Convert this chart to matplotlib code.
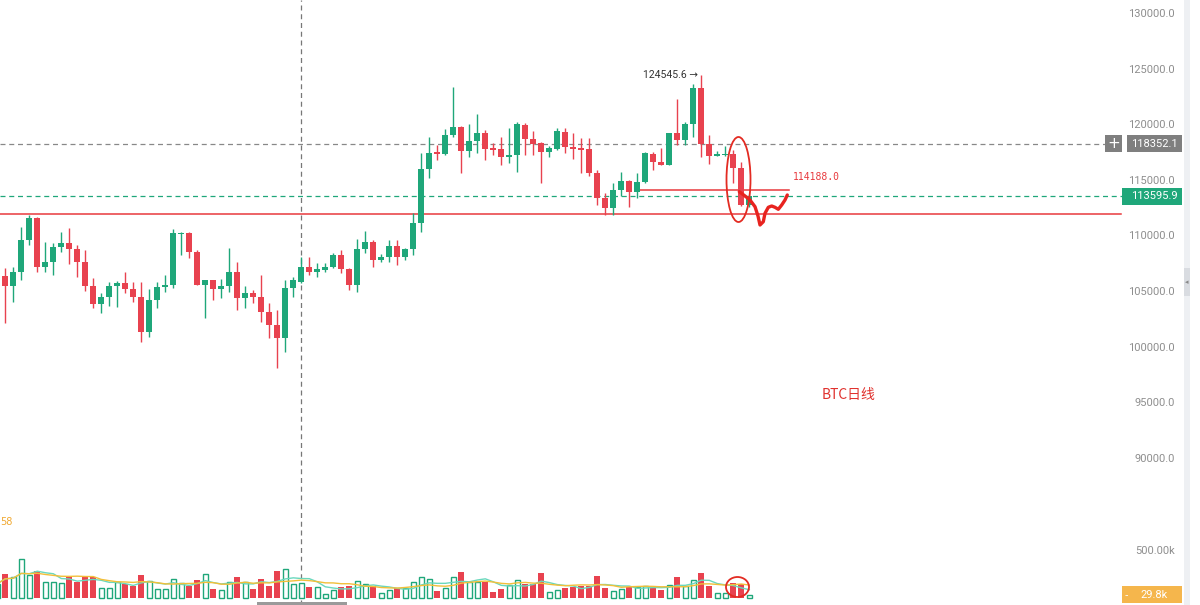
import matplotlib
matplotlib.use('Agg')
import matplotlib.pyplot as plt
import matplotlib.transforms as mtransforms
from matplotlib.patches import Rectangle, Ellipse
import numpy as np
import pandas as pd

# ---------------- data (BTC daily) ----------------
opens = [105800, 106400, 105540, 106825, 109676, 111682, 107275, 107670, 109020, 109380,
         108867, 107725, 105566, 103894, 104523, 105566, 105782, 105270, 104577, 101376,
         104281, 105477, 105630, 110216, 110333, 108570, 105630, 106079, 105270, 105566,
         106770, 104433, 104883, 104577, 103228, 102032, 100836, 105333, 105926, 107275,
         106825, 106978, 107215, 108327, 107068, 105630, 108843, 109523, 107878, 108120,
         109163, 108174, 108843, 111178, 116034, 117560, 117410, 119119, 119865, 117707,
         118606, 119271, 117920, 117830, 117167, 117347, 120020, 118732, 118372, 117563,
         117860, 119418, 118070, 117920, 117830, 115675, 113426, 112527, 114173, 114982,
         114020, 114919, 117383, 116664, 116421, 119271, 118669, 120081, 123372, 118282,
         117257, 117300, 117383, 116124, 112824]
highs = [107800, 107200, 107275, 110872, 111925, 111772, 109470, 109380, 110368, 110728,
         109227, 108777, 106286, 104937, 105873, 105990, 106770, 105926, 105873, 105270,
         105926, 106529, 110639, 110400, 110400, 108777, 106100, 106100, 106139, 108930,
         107725, 105540, 105180, 106529, 103984, 103381, 106079, 106322, 108174, 108174,
         107635, 107580, 108534, 108777, 107200, 109742, 110485, 109676, 108417, 109676,
         109676, 108930, 112077, 117527, 118912, 118219, 119631, 123408, 119900, 120108,
         121007, 119569, 118372, 118912, 119721, 120315, 120170, 119508, 118516, 118129,
         119775, 119721, 119271, 118822, 118822, 115971, 113876, 114775, 115764, 115072,
         115675, 117563, 117563, 117923, 119300, 122383, 120315, 123678, 124545.6, 119119,
         117680, 118160, 117770, 116718, 113700]
lows = [102300, 102200, 104128, 106079, 109227, 106825, 106825, 106529, 108623, 107490,
        106376, 105090, 103534, 103085, 103768, 103678, 104883, 104128, 100477, 100980,
        103534, 105027, 105333, 108327, 108030, 105600, 102635, 104281, 104433, 105027,
        103381, 103534, 103984, 102330, 100836, 98138, 99631, 104577, 105782, 106529,
        106322, 106825, 107131, 106681, 105180, 105027, 108534, 107275, 107725, 107725,
        107428, 107878, 108327, 110422, 115225, 116871, 117320, 118968, 115729, 117113,
        117527, 116871, 117320, 116421, 116573, 115791, 117320, 117320, 114775, 117167,
        117770, 117527, 116960, 115729, 115439, 112800, 111925, 111925, 113661, 112671,
        113426, 114775, 115971, 116400, 116400, 118219, 118219, 118968, 117167, 116538,
        117257, 117200, 114775, 112750, 112650]
closes = [107200, 105500, 106825, 109676, 111682, 107275, 107670, 109020, 109380, 108867,
          107725, 105566, 103894, 104523, 105566, 105782, 105270, 104577, 101376, 104281,
          105477, 105630, 110279, 110333, 108570, 105630, 106079, 105270, 105566, 106770,
          104433, 104883, 104577, 103228, 102032, 100836, 105333, 106079, 107275, 106825,
          107068, 107275, 108327, 107068, 105630, 108843, 109523, 107878, 108120, 109163,
          108174, 108843, 111178, 116034, 117473, 117410, 119119, 119865, 117707, 118606,
          119271, 117860, 117770, 117167, 117347, 120081, 118732, 118309, 117563, 117923,
          119478, 118013, 117890, 117770, 115675, 113426, 112527, 114173, 114982, 114020,
          114919, 117473, 116664, 116421, 119271, 118669, 120081, 123372, 118282, 117257,
          117380, 117440, 116124, 112824, 113595.9]
volumes_k = [150, 254, 225, 411, 243, 286, 171, 171, 154, 218,
             171, 218, 218, 107, 107, 171, 147, 125, 243, 182,
             90, 90, 197, 154, 125, 189, 250, 90, 82, 171,
             225, 171, 90, 197, 125, 289, 304, 147, 161, 118,
             118, 40, 82, 111, 125, 179, 143, 125, 47, 82,
             101, 101, 171, 225, 197, 75, 101, 225, 278, 171,
             171, 165, 64, 90, 136, 189, 147, 147, 268, 58,
             82, 101, 118, 125, 125, 232, 107, 75, 90, 118,
             111, 125, 101, 82, 136, 218, 125, 189, 268, 128,
             47, 54, 154, 143, 29.8]
price_ticks = [130000, 125000, 120000, 115000, 110000, 105000, 100000, 95000, 90000]
volume_tick = 500
support_level = 112000
level_114188 = 114188.0
crosshair_price = 118352.1
last_price = 113595.9
peak_price = 124545.6
crosshair_index = 38
level_start_index = 80

# ---------------- style ----------------
W, H = 1200, 605
GREEN = '#1fa77a'
RED = '#e8424f'
LINE_RED = '#e8393d'
GRAY_TXT = '#8e8e8e'

fig = plt.figure(figsize=(W / 100, H / 100), dpi=100)
fig.patch.set_facecolor('white')

ax = fig.add_axes([0, 0, 1, 1])
ax.set_xlim(0.3375, 150.3375)
ax.set_ylim(76852.5, 131259)
ax.axis('off')

axv = fig.add_axes([0, 0, 1, 1], sharex=ax)
axv.set_ylim(-78.1, 6395.4)
axv.axis('off')

px = mtransforms.Affine2D().scale(1 / W, -1 / H).translate(0, 1) + fig.transFigure
bl = mtransforms.blended_transform_factory(ax.transAxes, ax.transData)
blv = mtransforms.blended_transform_factory(axv.transAxes, axv.transData)

o = np.array(opens, float); h = np.array(highs, float)
l = np.array(lows, float); c = np.array(closes, float)
v = np.array(volumes_k, float)
x = np.arange(len(o))
up = c >= o
cols = np.where(up, GREEN, RED)

# right panel strip
fig.patches.append(Rectangle((1184, 0), 6, H, transform=px, facecolor='#eef0f3', edgecolor='none'))
fig.patches.append(Rectangle((1184, 268), 6, 28, transform=px, facecolor='#d9dce1', edgecolor='none'))
fig.text(1186.5 / W, 1 - 282 / H, '◂', fontsize=5, color='#888888', ha='center', va='center')

# horizontal reference lines
ax.plot([0, 1105 / W], [crosshair_price] * 2, transform=bl, color='#888888', lw=0.9,
        dashes=(4, 3))
ax.plot([0, 1122 / W], [last_price] * 2, transform=bl, color=GREEN, lw=0.9, dashes=(4, 3))
ax.plot([0, 1121 / W], [support_level] * 2, transform=bl, color=LINE_RED, lw=1.1)
ax.plot([level_start_index - 0.3, 98.9], [level_114188] * 2, color=LINE_RED, lw=1.1)

# crosshair vertical
ax.plot([crosshair_index, crosshair_index], [0, 1], transform=mtransforms.blended_transform_factory(ax.transData, ax.transAxes),
        color='#777777', lw=0.9, dashes=(4, 3))
ax.set_ylim(76852.5, 131259)

# candles
ax.vlines(x, l, h, colors=cols, linewidth=1.0, zorder=3)
body_b = np.minimum(o, c)
body_h = np.maximum(np.abs(c - o), 70)
ax.bar(x, body_h, bottom=body_b, width=0.74, color=cols, linewidth=0, zorder=4)

# volume
axv.bar(x[~up], v[~up], width=0.72, color=RED, linewidth=0, zorder=3)
axv.bar(x[up], v[up], width=0.62, facecolor='white', edgecolor=GREEN, linewidth=1.0, zorder=3)
vs = pd.Series(v)
axv.plot(x, vs.rolling(5, min_periods=1).mean(), color='#6ad8bd', lw=1.0, zorder=5)
axv.plot(x, vs.rolling(10, min_periods=1).mean(), color='#f2bf3a', lw=1.0, zorder=5)

# price axis labels
for p in price_ticks:
    ax.text(1175 / W, p, f'{p:.1f}', transform=bl, ha='right', va='center',
            fontsize=8, color=GRAY_TXT, family=['Roboto', 'DejaVu Sans'])
axv.text(1175 / W, volume_tick, f'{volume_tick:.2f}k', transform=blv, ha='right', va='center',
         fontsize=8, color=GRAY_TXT, family=['Roboto', 'DejaVu Sans'])

# crosshair price label
ph = 8.5 / 11.12 * 1000
ax.add_patch(Rectangle((1105 / W, crosshair_price - ph), 17 / W, 2 * ph, transform=bl,
                       facecolor='#7f7f7f', edgecolor='none', zorder=6))
ax.text(1113.5 / W, crosshair_price, '+', transform=bl, ha='center', va='center',
        fontsize=11, color='white', zorder=7)
ax.add_patch(Rectangle((1127 / W, crosshair_price - ph), 55 / W, 2 * ph, transform=bl,
                       facecolor='#7f7f7f', edgecolor='none', zorder=6))
ax.text(1154.5 / W, crosshair_price, f'{crosshair_price:.1f}', transform=bl, ha='center',
        va='center', fontsize=8, color='white', family=['Roboto', 'DejaVu Sans'], zorder=7)

# last price label
ax.add_patch(Rectangle((1122 / W, last_price - ph), 60 / W, 2 * ph, transform=bl,
                       facecolor=GREEN, edgecolor='none', zorder=6))
ax.text(1154.5 / W, last_price, f'{last_price:.1f}', transform=bl, ha='center',
        va='center', fontsize=8, color='white', family=['Roboto', 'DejaVu Sans'], zorder=7)

# last volume label
vh = 8.5 * 10.7
axv.add_patch(Rectangle((1122 / W, volumes_k[-1] - vh), 60 / W, 2 * vh, transform=blv,
                        facecolor='#f5b64c', edgecolor='none', zorder=6))
axv.text(1154.5 / W, volumes_k[-1], f'{volumes_k[-1]:.1f}k', transform=blv, ha='center',
         va='center', fontsize=8, color='white', family=['Roboto', 'DejaVu Sans'], zorder=7)
axv.text(1126 / W, volumes_k[-1], '-', transform=blv, ha='center', va='center',
         fontsize=7, color='white', zorder=7)

# annotations
ax.text(len(o) - 7.4, peak_price, f'{peak_price:.1f} →', ha='right', va='center',
        fontsize=7.5, color='#333333', family=['Roboto', 'DejaVu Sans'])
ax.text(99.4, level_114188 + 1150, f'{level_114188:.1f}', ha='left', va='center',
        fontsize=7, color=LINE_RED, family='DejaVu Sans Mono')
fig.text(822 / W, 1 - 395 / H, 'BTC日线', fontsize=10, color='#e0322e', ha='left',
         va='center', family=['Noto Sans CJK SC', 'DejaVu Sans'])
fig.text(0 / W, 1 - 522 / H, '58', fontsize=7, color='#f0a830', ha='left', va='center')

# hand-drawn marks
fig.patches.append(Ellipse((738.5, 179.5), 24, 85, transform=px, fill=False,
                           edgecolor='#e32b22', lw=1.3))
fig.patches.append(Ellipse((737.5, 587), 23, 20, transform=px, fill=False,
                           edgecolor='#e32b22', lw=1.3))
wave_x = [739.3, 745, 750, 755, 758, 760, 763.3, 765, 768.3, 771.7, 775, 778.3, 781.7, 785, 787.3]
wave_y = [191.7, 196, 200, 206.7, 216, 225, 221.7, 213.3, 207.3, 206, 207.3, 209.3, 205, 200, 195]
fig.lines.append(plt.Line2D(wave_x, wave_y, transform=px, color='#e8231f', lw=2.4,
                            solid_capstyle='round', solid_joinstyle='round'))

# bottom scrollbar
fig.patches.append(Rectangle((257, 602), 90, 3, transform=px, facecolor='#9a9a9a', edgecolor='none'))

fig.savefig('out.png', dpi=100)
